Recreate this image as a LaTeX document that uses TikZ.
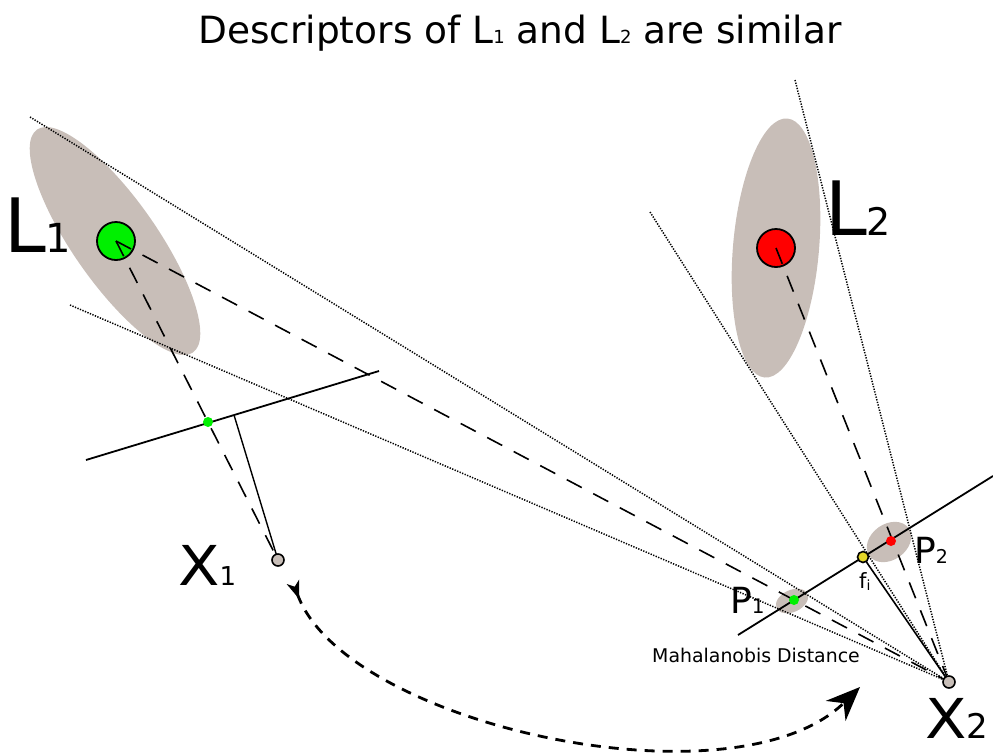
\documentclass[tikz,border=0pt]{standalone}
\usepackage{fontspec}
\setmainfont{DejaVu Sans}
\usetikzlibrary{arrows.meta}
\definecolor{blobgray}{RGB}{200,190,184}
\definecolor{fiyellow}{RGB}{228,214,40}
\definecolor{ptgreen}{RGB}{0,240,0}
\newcommand{\sz}[2]{{\fontsize{#1}{#1}\selectfont #2}}
\tikzset{
  blob/.style={fill=blobgray},
  landmark/.style={circle,draw,line width=1.8pt,minimum size=38pt,inner sep=0pt},
  campt/.style={circle,draw,fill=blobgray,line width=1.6pt,minimum size=12pt,inner sep=0pt},
  proj/.style={circle,fill=#1,minimum size=10pt,inner sep=0pt},
  ray/.style={line width=1.6pt,dash pattern=on 17pt off 13pt},
  sight/.style={line width=1.5pt,dash pattern=on 1.3pt off 1.4pt},
  plane/.style={line width=1.8pt},
  txt/.style={anchor=base west,inner sep=0pt}
}
\begin{document}
\begin{tikzpicture}[x=1pt,y=-1pt]
\useasboundingbox (0,0) rectangle (993,753);
% uncertainty of the landmarks and of the projections
\fill[blob,rotate around={-55:(115,241)}] (115,241) ellipse [x radius=136pt,y radius=42pt];
\fill[blob,rotate around={85:(776,248)}] (776,248) ellipse [x radius=130pt,y radius=43pt];
\fill[blob,rotate around={25:(792,601)}] (792,601) ellipse [x radius=17pt,y radius=11pt];
\fill[blob,rotate around={35:(889,542)}] (889,542) ellipse [x radius=24pt,y radius=18pt];
\node[landmark,fill=ptgreen] (l1) at (116,241) {};
\node[landmark,fill=red] (l2) at (776,248) {};
\coordinate (c1) at (278,560);
\coordinate (c2) at (949,682);
\coordinate (foot) at (234,415);
\coordinate (fi) at (863,557);
\coordinate (pa1) at (86,460);
\coordinate (pb1) at (379,371);
\coordinate (pa2) at (738,635);
\coordinate (pb2) at (993,476);
\coordinate (s1) at (30,117);
\coordinate (s2) at (70,305);
\coordinate (s3) at (650,212);
\coordinate (s4) at (795,80);
\coordinate (ms) at (293,582);
\coordinate (me) at (860,687);
\foreach \s in {s1,s2,s3,s4}
  \draw[sight] (\s) -- (c2);
\draw[ray] (l1.center) -- (c1);
\draw[ray] (l1.center) -- (c2);
\draw[ray] (l2.center) -- (c2);
\draw[plane] (pa1) -- (pb1);
\draw[plane] (pa2) -- (pb2);
\draw[line width=1.4pt] (foot) -- (c1);
\draw[line width=1.6pt] (fi) -- (c2);
\node[proj=ptgreen] (q1) at (208,422) {};
\node[proj=ptgreen] (p1) at (794,600) {};
\node[proj=red] (p2) at (891,541) {};
\node[campt,fill=fiyellow,minimum size=11pt] (f) at (fi) {};
\node[campt] (x1) at (c1) {};
\node[campt] (x2) at (c2) {};
% camera motion
\draw[line width=2.8pt,dash pattern=on 10pt off 8pt,
  {Stealth[reversed,length=18pt,width=13pt,inset=5pt]}-{Stealth[length=34pt,width=28pt,inset=11pt]}]
  (ms) .. controls (345,725) and (735,810) .. (me);
% labels
\node[anchor=base,inner sep=0pt] (title) at (520,43)
  {\sz{37.5}{Descriptors of L\sz{18}{1} and L\sz{18}{2} are similar}};
\node[txt] (lab1) at (4,252) {\sz{75}{L}\sz{40}{1}};
\node[txt] (lab2) at (825,235) {\sz{75}{L}\sz{38}{2}};
\node[txt] (labx1) at (178,585) {\scalebox{1.1}[1]{\sz{55}{X}}\sz{26}{1}};
\node[txt] (labx2) at (925,738) {\scalebox{1.1}[1]{\sz{55}{X}}\sz{34}{2}};
\node[txt] (labp1) at (730,613) {\sz{36}{P}\sz{20}{1}};
\node[txt] (labp2) at (914,563) {\sz{36}{P}\sz{19}{2}};
\node[txt] (labf) at (859,588) {\sz{21}{f}\raisebox{-2pt}{\sz{14}{i}}};
\node[txt] (labm) at (652,662) {\sz{18.9}{Mahalanobis Distance}};
\end{tikzpicture}
\end{document}
